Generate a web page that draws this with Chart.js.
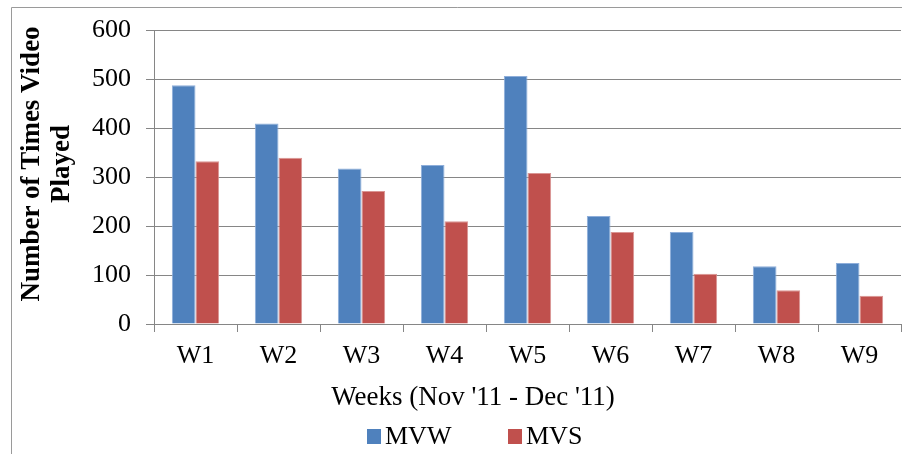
<!DOCTYPE html>
<html>
<head>
<meta charset="utf-8">
<title>Number of Times Video Played</title>
<script src="https://cdn.jsdelivr.net/npm/chart.js@4"></script>
<style>
	html, body { margin: 0; padding: 0; background: #FFFFFF; overflow: hidden; }
	#wrap { position: relative; width: 902px; height: 454px; }
</style>
</head>
<body>
<div id="wrap"><canvas id="myBarChart" width="902" height="454"></canvas></div>
<script>
// 데이터
const weeks = ['W1', 'W2', 'W3', 'W4', 'W5', 'W6', 'W7', 'W8', 'W9'];
const mvwValues = [488, 410, 318, 325, 507, 221, 188, 118, 125];
const mvsValues = [333, 340, 272, 210, 309, 188, 103, 69, 58];
const yTicks = [0, 100, 200, 300, 400, 500, 600];
const seriesNames = ['MVW', 'MVS'];
const xTitle = "Weeks (Nov '11 - Dec '11)";
const yTitle = ['Number of Times Video', 'Played'];

const FONT = "'Liberation Serif', 'Times New Roman', serif";
const GRID = '#868686';

// 축 제목, 범례, 바깥 테두리 그리기
const decorPlugin = {
	id: 'decor',
	afterDraw: function(chart) {
		const ctx = chart.ctx;
		ctx.save();

		// 바깥 테두리 (오른쪽/아래는 잘려 있음)
		ctx.strokeStyle = '#9A9A9A';
		ctx.lineWidth = 1;
		ctx.beginPath();
		ctx.moveTo(11.5, 460);
		ctx.lineTo(11.5, 7.5);
		ctx.lineTo(910, 7.5);
		ctx.stroke();

		ctx.fillStyle = '#000000';

		// y축 제목 (두 줄, 회전)
		ctx.font = 'bold 27px ' + FONT;
		ctx.textAlign = 'center';
		ctx.textBaseline = 'middle';
		ctx.save();
		ctx.translate(32, 164);
		ctx.rotate(-Math.PI / 2);
		ctx.fillText(yTitle[0], 0, 0);
		ctx.fillText(yTitle[1], 0, 30);
		ctx.restore();

		// x축 제목
		ctx.font = '27px ' + FONT;
		ctx.fillText(xTitle, 473, 398);

		// 범례
		ctx.font = '26px ' + FONT;
		const legendX = [367, 508];
		chart.data.datasets.forEach(function(ds, i) {
			ctx.fillStyle = ds.backgroundColor;
			ctx.fillRect(legendX[i], 429, 14, 15);
			ctx.fillStyle = '#000000';
			ctx.textAlign = 'left';
			ctx.fillText(ds.label, legendX[i] + 18, 437);
		});

		ctx.restore();
	}
};

document.addEventListener('DOMContentLoaded', function() {
	const barCtx = document.getElementById('myBarChart').getContext('2d');

	window.myBarChart = new Chart(barCtx, {
		type: 'bar',
		data: {
			labels: weeks,
			datasets: [{
				label: seriesNames[0],
				data: mvwValues,
				backgroundColor: '#4F81BD',
				borderColor: '#8EAEDA',
				borderWidth: 1
			}, {
				label: seriesNames[1],
				data: mvsValues,
				backgroundColor: '#C0504D',
				borderColor: '#DA9593',
				borderWidth: 1
			}]
		},
		options: {
			responsive: false,
			animation: false,
			maintainAspectRatio: false,
			layout: {
				padding: { left: 0, top: 30, right: 1, bottom: 0 }
			},
			datasets: {
				bar: {
					categoryPercentage: 0.57,
					barPercentage: 1.0
				}
			},
			scales: {
				x: {
					afterFit: function(scale) { scale.height = 130; },
					grid: {
						drawOnChartArea: false,
						drawTicks: true,
						tickLength: 8,
						color: GRID,
						offset: true
					},
					border: { color: GRID, width: 1 },
					ticks: {
						color: '#000000',
						padding: 9,
						font: { family: FONT, size: 26 }
					}
				},
				y: {
					min: 0,
					max: 600,
					afterFit: function(scale) { scale.width = 154; },
					afterBuildTicks: function(scale) {
						scale.ticks = yTicks.map(function(v) { return { value: v }; });
					},
					grid: {
						color: GRID,
						tickLength: 8,
						drawTicks: true
					},
					border: { color: GRID, width: 1 },
					ticks: {
						color: '#000000',
						padding: 15,
						font: { family: FONT, size: 26 }
					}
				}
			},
			plugins: {
				legend: { display: false },
				tooltip: { enabled: false }
			}
		},
		plugins: [decorPlugin]
	});
});
</script>
</body>
</html>
